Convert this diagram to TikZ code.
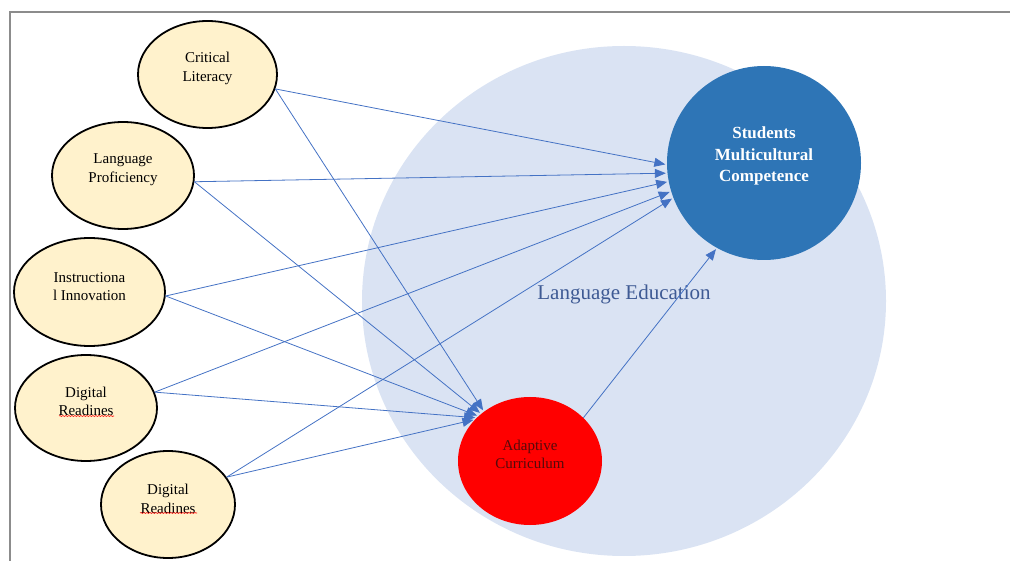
\documentclass[tikz,border=0pt]{standalone}
\usepackage{fontspec}
\setmainfont{Liberation Serif}
\usetikzlibrary{shapes.geometric,arrows.meta,decorations.pathmorphing}
\definecolor{beige}{HTML}{FFF2CC}
\definecolor{lebg}{HTML}{DAE3F3}
\definecolor{smcblue}{HTML}{2E75B6}
\definecolor{linkblue}{HTML}{4472C4}
\definecolor{letext}{HTML}{3E5A94}
\definecolor{actext}{HTML}{550A0A}
\definecolor{framegray}{HTML}{8C8C8C}
\begin{document}
\begin{tikzpicture}[x=1pt,y=-1pt,
  factor/.style={ellipse,draw=black,line width=1.8pt,fill=beige,inner sep=0pt},
  ftext/.style={align=center,inner sep=0pt,font=\fontsize{15}{18.7}\selectfont},
  link/.style={draw=linkblue,line width=0.8pt,shorten >=1.5pt,-{Triangle[length=11pt,width=9pt]}},
  spell/.style={draw=red,line width=0.6pt,decorate,decoration={snake,amplitude=0.5pt,segment length=3pt}}]
\useasboundingbox (0,0) rectangle (1010,561);
\draw[framegray,line width=1.5pt] (10,561) -- (10,12) -- (1010,12);
% background circle
\node[ellipse,fill=lebg,minimum width=524pt,minimum height=510pt,inner sep=0pt] (le) at (624,301) {};
\node[text=letext,inner sep=0pt,font=\fontsize{21}{24}\selectfont] (letxt) at (624,294) {Language Education};
% outcome
\node[circle,fill=smcblue,minimum size=194pt,inner sep=0pt] (smc) at (764,163) {};
\node[align=center,inner sep=0pt,text=white,font=\fontsize{17}{21.5}\selectfont\bfseries] (smctxt) at (764,156) {Students\\Multicultural\\Competence};
% mediator
\node[ellipse,fill=red,minimum width=144pt,minimum height=128pt,inner sep=0pt] (ac) at (530,461) {};
\node[ftext,text=actext] (actxt) at (530,454.5) {Adaptive\\Curriculum};
% factors
\node[factor,minimum width=139pt,minimum height=107pt] (cl) at (207.5,74.5) {};
\node[ftext] (cltxt) at (207.5,68.5) {Critical\\Literacy};
\node[factor,minimum width=142pt,minimum height=107pt] (lp) at (123,175.5) {};
\node[ftext] (lptxt) at (123,169.5) {Language\\Proficiency};
\node[factor,minimum width=151pt,minimum height=108pt] (ii) at (89.5,292) {};
\node[ftext] (iitxt) at (89.5,286.5) {Instructiona\\l Innovation};
\node[factor,minimum width=142pt,minimum height=106pt] (dra) at (86,408) {};
\node[ftext] (dratxt) at (86,401.5) {Digital\\Readines};
\node[factor,minimum width=134pt,minimum height=107pt] (drb) at (168,504.5) {};
\node[ftext] (drbtxt) at (168,499) {Digital\\Readines};
% spelling underlines
\draw[spell] (59,416) -- (114,416);
\draw[spell] (140,513) -- (197,513);
% links to outcome
\draw[link] (cl.-12) -- (smc.181);
\draw[link] (lp.-5) -- (smc.186);
\draw[link] (ii.-3) -- (smc.191);
\draw[link] (dra.13) -- (smc.197);
\draw[link] (drb.25) -- (smc.201);
% links to mediator
\draw[link] (cl.-12) -- (ac.133);
\draw[link] (lp.-5) -- (ac.136);
\draw[link] (ii.-3) -- (ac.139);
\draw[link] (dra.13) -- (ac.141);
\draw[link] (drb.25) -- (ac.143);
% mediator to outcome
\draw[link] (ac.39) -- (smc.241);
\end{tikzpicture}
\end{document}
